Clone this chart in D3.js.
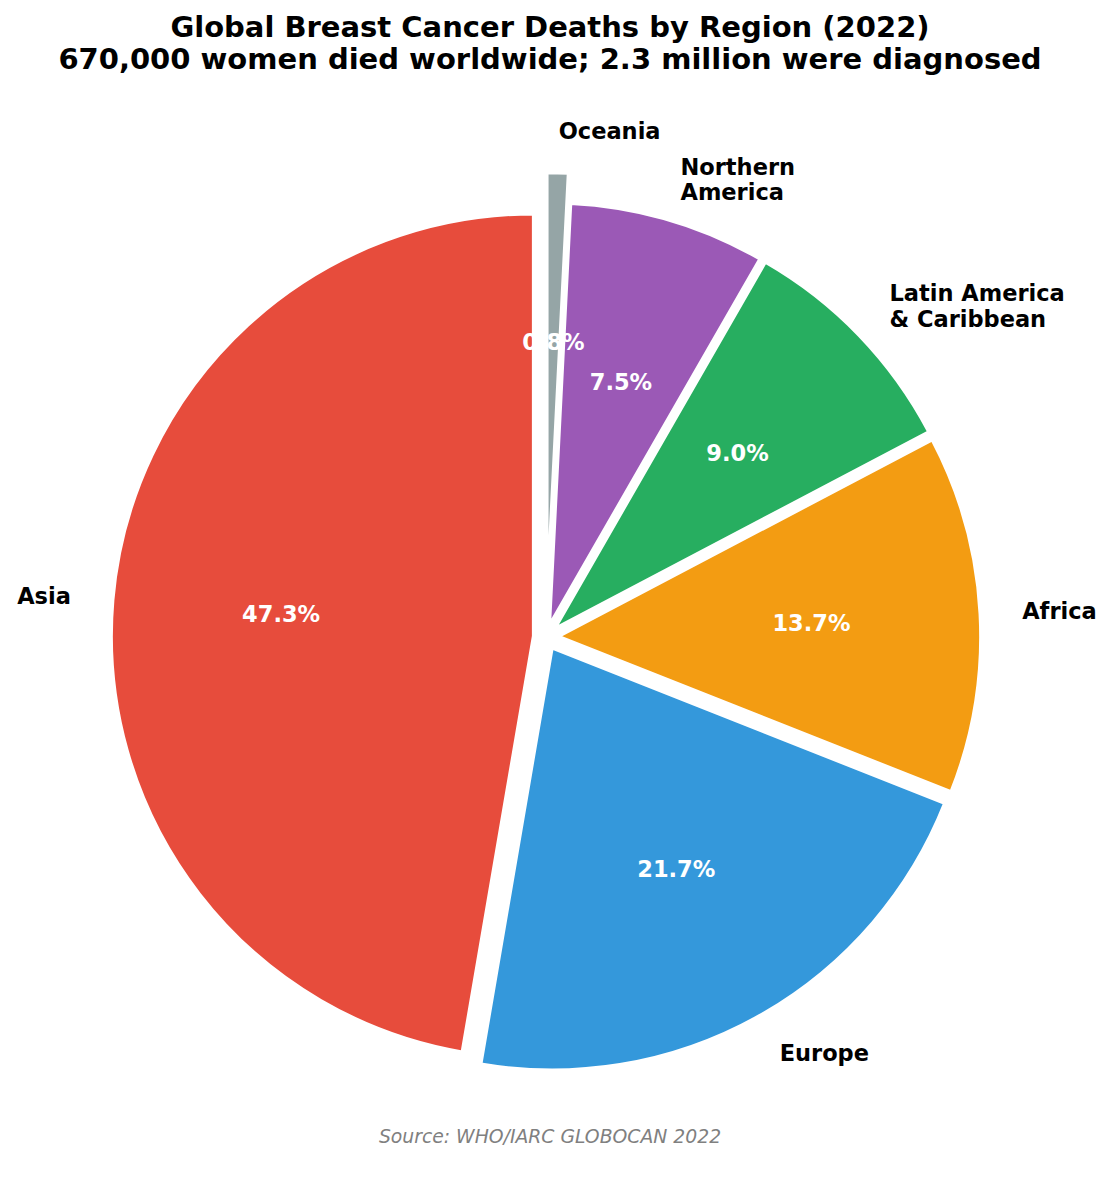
<!DOCTYPE html>
<html><head><meta charset="utf-8">
<script src="https://cdn.jsdelivr.net/npm/d3@7"></script>
<style>body{margin:0;background:#fff}</style>
</head><body>
<svg id="chart" width="1114" height="1183"></svg>
<script>
const regions = ['Asia', 'Europe', 'Africa', 'Latin America\n& Caribbean', 'Northern\nAmerica', 'Oceania'];
const shares = [47.3, 21.7, 13.7, 9.0, 7.5, 0.8];
const colors = ['#e74c3c', '#3498db', '#f39c12', '#27ae60', '#9b59b6', '#95a5a6'];
const explode = [0.03, 0.03, 0.03, 0.03, 0.03, 0.1];

const svg = d3.select('#chart');
const cx = 546, cy = 637, r = 422;
const font = 'DejaVu Sans, sans-serif';

// counterclockwise from 12 o'clock, like matplotlib startangle=90
const pie = d3.pie().sort(null).startAngle(0).endAngle(-2 * Math.PI);
const arcs = pie(shares);
const arc = d3.arc().innerRadius(0).outerRadius(r);

const g = svg.append('g').attr('transform', `translate(${cx},${cy})`);

arcs.forEach((d, i) => {
  const mid = (d.startAngle + d.endAngle) / 2;
  const dx = Math.sin(mid) * explode[i] * r, dy = -Math.cos(mid) * explode[i] * r;
  const s = g.append('g').attr('transform', `translate(${dx},${dy})`);
  s.append('path').attr('d', arc(d)).attr('fill', colors[i])
    .attr('stroke', '#fff').attr('stroke-width', 3);

  // percentage label
  const px = Math.sin(mid) * r * 0.6, py = -Math.cos(mid) * r * 0.6;
  s.append('text').attr('x', px).attr('y', py).attr('text-anchor', 'middle')
    .attr('dominant-baseline', 'central').attr('fill', '#fff')
    .attr('font-family', font).attr('font-weight', 'bold').attr('font-size', 22.5)
    .text(shares[i].toFixed(1) + '%');

  // category label
  const lx = Math.sin(mid) * r * 1.1, ly = -Math.cos(mid) * r * 1.1;
  const lines = regions[i].split('\n');
  const t = s.append('text').attr('x', lx).attr('y', ly)
    .attr('text-anchor', lx >= 0 ? 'start' : 'end')
    .attr('font-family', font).attr('font-weight', 'bold').attr('font-size', 22.5)
    .attr('fill', '#000');
  lines.forEach((ln, j) => {
    t.append('tspan').attr('x', lx)
      .attr('dy', j === 0 ? (0.35 - (lines.length - 1) * 0.57) + 'em' : '1.15em')
      .text(ln);
  });
});

svg.append('text').attr('x', 550).attr('y', 37).attr('text-anchor', 'middle')
  .attr('font-family', font).attr('font-weight', 'bold').attr('font-size', 29)
  .text('Global Breast Cancer Deaths by Region (2022)');
svg.append('text').attr('x', 550).attr('y', 69).attr('text-anchor', 'middle')
  .attr('font-family', font).attr('font-weight', 'bold').attr('font-size', 29)
  .text('670,000 women died worldwide; 2.3 million were diagnosed');
svg.append('text').attr('x', 550).attr('y', 1143).attr('text-anchor', 'middle')
  .attr('font-family', font).attr('font-style', 'italic').attr('font-size', 18.8)
  .attr('fill', '#808080').text('Source: WHO/IARC GLOBOCAN 2022');
</script>
</body></html>
